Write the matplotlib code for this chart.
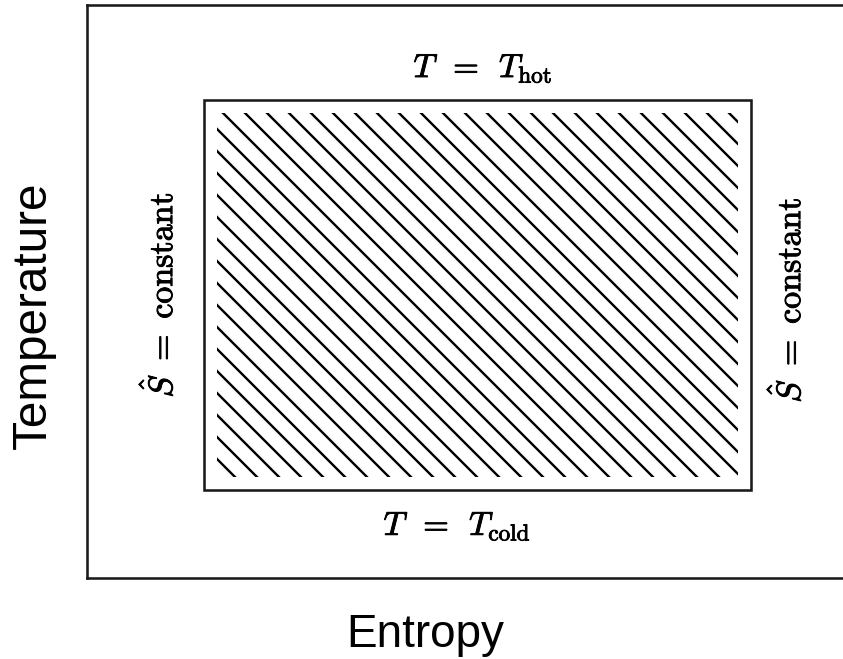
import matplotlib
matplotlib.use('Agg')
import matplotlib.pyplot as plt
import matplotlib.patheffects as pe
from matplotlib.patches import Rectangle

# Carnot cycle on a T-S diagram (axis units, 0..1)
entropy_bounds = [0.15, 0.85]        # the two isentropes
temperature_bounds = [0.153, 0.834]  # T_cold, T_hot
hot_label = r'$T\ \,=\ \,T_{\mathrm{hot}}$'
cold_label = r'$T\ \,=\ \,T_{\mathrm{cold}}$'
isentrope_label = r'$\hat{S}\ =\ \mathrm{constant}$'

plt.rcParams['mathtext.fontset'] = 'cm'
plt.rcParams['hatch.linewidth'] = 1.3
plt.rcParams['hatch.color'] = 'black'

dpi = 132
fig = plt.figure(figsize=(843 / dpi, 659 / dpi), dpi=dpi)
ax = fig.add_axes([87 / 843, 81 / 659, 781 / 843, 573 / 659])
ax.set_xlim(0, 1)
ax.set_ylim(0, 1)
ax.set_xticks([])
ax.set_yticks([])
for sp in ax.spines.values():
    sp.set_linewidth(1.4)
    sp.set_color('#1a1a1a')

s0, s1 = entropy_bounds
t0, t1 = temperature_bounds
# outline of the cycle
ax.add_patch(Rectangle((s0, t0), s1 - s0, t1 - t0, fill=False,
                       edgecolor='#1a1a1a', linewidth=1.4))
# hatched work area, slightly inset
dx, dy = 0.0166, 0.0227
ax.add_patch(Rectangle((s0 + dx, t0 + dy), s1 - s0 - 2 * dx, t1 - t0 - 2 * dy,
                       fill=False, edgecolor='black', linewidth=0, hatch='\\\\'))

bold = [pe.withStroke(linewidth=0.5, foreground='black')]
ax.text(0.507, 0.874, hot_label, fontsize=18, ha='center', va='baseline',
        path_effects=bold)
ax.text(0.474, 0.075, cold_label, fontsize=18, ha='center', va='baseline',
        path_effects=bold)
ax.text(0.0935, 0.494, isentrope_label, fontsize=18.5, rotation=90,
        ha='center', va='center', path_effects=bold)
ax.text(0.8976, 0.485, isentrope_label, fontsize=18.5, rotation=90,
        ha='center', va='center', path_effects=bold)

fig.text(0.04, 0.522, 'Temperature', fontsize=26, rotation=90,
         family='Liberation Sans', ha='center', va='center')
fig.text(0.505, 0.018, 'Entropy', fontsize=25, family='Liberation Sans',
         ha='center', va='baseline')

fig.savefig('out.png', dpi=dpi)
